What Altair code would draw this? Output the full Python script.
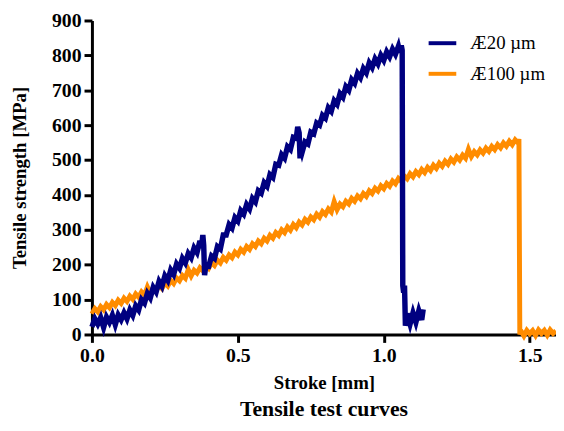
import altair as alt
import pandas as pd

series_names = ["Æ20 µm", "Æ100 µm"]
series_colors = ["#000080", "#FF8C00"]

x_ticks = [0.0, 0.5, 1.0, 1.5]
y_ticks = [0, 100, 200, 300, 400, 500, 600, 700, 800, 900]

blue_x = [0.00, 0.01, 0.02, 0.03, 0.04, 0.05, 0.06, 0.07, 0.08, 0.09,
          0.10, 0.11, 0.12, 0.13, 0.14, 0.15, 0.16, 0.17, 0.18, 0.19,
          0.20, 0.21, 0.22, 0.23, 0.24, 0.25, 0.26, 0.27, 0.28, 0.29,
          0.30, 0.31, 0.32, 0.33, 0.34, 0.35, 0.36, 0.37, 0.375, 0.38,
          0.383, 0.386, 0.39, 0.40, 0.41, 0.42, 0.43, 0.44, 0.45, 0.46,
          0.47, 0.48, 0.49, 0.50, 0.51, 0.52, 0.53, 0.54, 0.55, 0.56,
          0.57, 0.58, 0.59, 0.60, 0.61, 0.62, 0.63, 0.64, 0.65, 0.66,
          0.67, 0.68, 0.69, 0.70, 0.705, 0.71, 0.713, 0.716, 0.72, 0.73,
          0.74, 0.75, 0.76, 0.77, 0.78, 0.79, 0.80, 0.81, 0.82, 0.83,
          0.84, 0.85, 0.86, 0.87, 0.88, 0.89, 0.90, 0.91, 0.92, 0.93,
          0.94, 0.95, 0.96, 0.97, 0.98, 0.99, 1.00, 1.01, 1.02, 1.03,
          1.04, 1.05, 1.055, 1.06, 1.063, 1.065, 1.068, 1.071, 1.074, 1.08,
          1.09, 1.10, 1.11, 1.12, 1.13, 1.135]
blue_y = [22, 45, 30, 48, 20, 50, 35, 55, 28, 56,
          42, 62, 45, 70, 55, 82, 70, 100, 90, 118,
          105, 135, 122, 152, 138, 168, 155, 185, 172, 202,
          190, 218, 205, 232, 220, 248, 235, 268, 248, 285,
          255, 170, 195, 195, 225, 218, 252, 245, 285, 285,
          315, 305, 335, 325, 355, 345, 372, 360, 390, 380,
          412, 405, 435, 425, 458, 450, 488, 485, 515, 505,
          538, 530, 565, 562, 595, 578, 505, 535, 522, 552,
          546, 580, 575, 606, 600, 628, 620, 650, 640, 670,
          660, 690, 680, 710, 700, 730, 720, 748, 736, 762,
          750, 778, 765, 790, 776, 800, 786, 810, 796, 818,
          803, 826, 808, 828, 815, 140, 120, 140, 25, 60,
          30, 62, 35, 68, 42, 72]

orange_x = [0.00, 0.01, 0.02, 0.03, 0.04, 0.05, 0.06, 0.07, 0.08, 0.09,
            0.10, 0.11, 0.12, 0.13, 0.14, 0.15, 0.16, 0.17, 0.18, 0.19,
            0.20, 0.21, 0.22, 0.23, 0.24, 0.25, 0.26, 0.27, 0.28, 0.29,
            0.30, 0.31, 0.32, 0.33, 0.34, 0.35, 0.36, 0.37, 0.38, 0.39,
            0.40, 0.41, 0.42, 0.43, 0.44, 0.45, 0.46, 0.47, 0.48, 0.49,
            0.50, 0.51, 0.52, 0.53, 0.54, 0.55, 0.56, 0.57, 0.58, 0.59,
            0.60, 0.61, 0.62, 0.63, 0.64, 0.65, 0.66, 0.67, 0.68, 0.69,
            0.70, 0.71, 0.72, 0.73, 0.74, 0.75, 0.76, 0.77, 0.78, 0.79,
            0.80, 0.81, 0.82, 0.83, 0.84, 0.85, 0.86, 0.87, 0.88, 0.89,
            0.90, 0.91, 0.92, 0.93, 0.94, 0.95, 0.96, 0.97, 0.98, 0.99,
            1.00, 1.01, 1.02, 1.03, 1.04, 1.05, 1.06, 1.07, 1.08, 1.09,
            1.10, 1.11, 1.12, 1.13, 1.14, 1.15, 1.16, 1.17, 1.18, 1.19,
            1.20, 1.21, 1.22, 1.23, 1.24, 1.25, 1.26, 1.27, 1.28, 1.29,
            1.30, 1.31, 1.32, 1.33, 1.34, 1.35, 1.36, 1.37, 1.38, 1.39,
            1.40, 1.41, 1.42, 1.43, 1.44, 1.45, 1.46, 1.463, 1.466, 1.47,
            1.48, 1.49, 1.50, 1.51, 1.52, 1.53, 1.54, 1.55, 1.56, 1.57,
            1.58, 1.59]
orange_y = [59, 74, 65, 80, 71, 86, 77, 92, 83, 98,
            89, 104, 95, 110, 101, 116, 107, 122, 113, 136,
            118, 134, 125, 141, 132, 148, 139, 155, 146, 162,
            154, 169, 161, 186, 168, 184, 176, 191, 183, 199,
            190, 206, 198, 213, 205, 221, 213, 228, 220, 236,
            228, 244, 236, 252, 244, 260, 252, 268, 260, 276,
            268, 284, 276, 292, 284, 300, 292, 308, 299, 315,
            306, 322, 314, 330, 322, 337, 329, 345, 336, 352,
            344, 360, 351, 381, 358, 374, 366, 382, 374, 390,
            382, 397, 389, 404, 396, 412, 404, 419, 411, 426,
            418, 433, 425, 440, 432, 447, 439, 454, 446, 461,
            452, 467, 458, 473, 464, 479, 470, 485, 476, 491,
            482, 497, 488, 503, 494, 509, 500, 514, 505, 531,
            510, 524, 515, 529, 520, 534, 525, 539, 530, 544,
            535, 549, 540, 554, 544, 558, 549, 560, 0, 10,
            -4, 12, 2, 11, -3, 13, 3, 12, -2, 13,
            3, 10]

df_blue = pd.DataFrame({"x": blue_x, "y": blue_y, "s": series_names[0],
                        "o": list(range(len(blue_x)))})
df_orange = pd.DataFrame({"x": orange_x, "y": orange_y, "s": series_names[1],
                          "o": list(range(len(orange_x)))})

FONT = "Liberation Serif"

x_enc = alt.X("x:Q", scale=alt.Scale(domain=[0, 1.59], nice=False, zero=False),
              axis=alt.Axis(values=x_ticks, format=".1f", title="Stroke [mm]",
                            labelFlush=False))
y_enc = alt.Y("y:Q", scale=alt.Scale(domain=[0, 900], nice=False),
              axis=alt.Axis(values=y_ticks, title="Tensile strength [MPa]",
                            labelFlush=False))
color_enc = alt.Color(
    "s:N",
    scale=alt.Scale(domain=series_names, range=series_colors),
    legend=alt.Legend(title=None, orient="none", legendX=339, legendY=7,
                      symbolType="stroke", symbolSize=784, symbolStrokeWidth=4,
                      labelFont=FONT, labelFontSize=19, labelFontWeight="normal",
                      labelColor="black", rowPadding=5, labelOffset=12,
                      labelLimit=300),
)

orange = alt.Chart(df_orange).mark_line(strokeWidth=5, clip=False).encode(
    x=x_enc, y=y_enc, color=color_enc, order="o:Q")
blue = alt.Chart(df_blue).mark_line(strokeWidth=5.5, clip=False).encode(
    x=x_enc, y=y_enc, color=color_enc, order="o:Q")

chart = alt.layer(orange, blue).properties(
    width=470, height=318,
    title=alt.TitleParams("Tensile test curves", orient="bottom", anchor="middle",
                          font=FONT, fontSize=22, fontWeight="bold", color="black",
                          offset=7),
    padding={"left": 85, "top": 10, "right": 0, "bottom": 87},
    autosize=alt.AutoSizeParams(type="none"),
).configure_axis(
    domainWidth=3, domainColor="black", tickWidth=3, tickColor="black", tickSize=8,
    labelFont=FONT, labelFontWeight="bold", labelFontSize=20, labelColor="black",
    labelPadding=3, titleFont=FONT, titleFontWeight="bold", titleFontSize=19,
    titleColor="black", grid=False,
).configure_axisX(titlePadding=9).configure_axisY(titlePadding=22).configure_view(
    stroke=None
)

chart.save("out.html", embed_options={"renderer": "svg", "actions": False})
